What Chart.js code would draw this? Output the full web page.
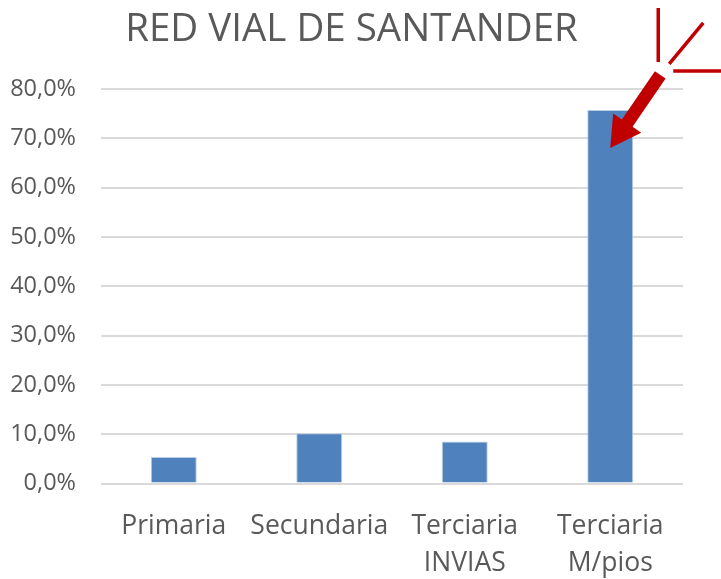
<!DOCTYPE html>
<html>
<head>
<meta charset="utf-8">
<script src="https://cdn.jsdelivr.net/npm/chart.js@4.4.1/dist/chart.umd.min.js"></script>
<style>
  html, body { margin: 0; padding: 0; background: #fff; }
  #wrap { width: 721px; height: 579px; }
</style>
</head>
<body>
<div id="wrap"><canvas id="c"></canvas></div>
<script>
const categories = [['Primaria'], ['Secundaria'], ['Terciaria', 'INVIAS'], ['Terciaria', 'M/pios']];
const shares = [5.4, 10.2, 8.5, 75.8];
const tickValues = [0, 10, 20, 30, 40, 50, 60, 70, 80];
const chartTitle = 'RED VIAL DE SANTANDER';

const textColor = '#595959';
const fontFamily = "'Open Sans', 'Noto Sans', sans-serif";

// red arrow + burst marks pointing at the tallest bar
const arrowPlugin = {
  id: 'arrowNote',
  afterDatasetsDraw(chart) {
    const bar = chart.getDatasetMeta(0).data[3];
    if (!bar) return;
    const ctx = chart.ctx;
    const tip = { x: bar.x, y: bar.y + 38 };
    const tail = { x: bar.x + 50, y: bar.y - 35 };
    const dx = tip.x - tail.x, dy = tip.y - tail.y;
    const len = Math.hypot(dx, dy);
    const ux = dx / len, uy = dy / len;
    const nx = -uy, ny = ux;
    const headLen = 30, headW = 17, shaftW = 6.5;
    const bx = tip.x - ux * headLen, by = tip.y - uy * headLen;

    ctx.save();
    ctx.fillStyle = '#C00000';
    ctx.beginPath();
    ctx.moveTo(tail.x + nx * shaftW, tail.y + ny * shaftW);
    ctx.lineTo(bx + nx * shaftW, by + ny * shaftW);
    ctx.lineTo(bx + nx * headW, by + ny * headW);
    ctx.lineTo(tip.x, tip.y);
    ctx.lineTo(bx - nx * headW, by - ny * headW);
    ctx.lineTo(bx - nx * shaftW, by - ny * shaftW);
    ctx.lineTo(tail.x - nx * shaftW, tail.y - ny * shaftW);
    ctx.closePath();
    ctx.fill();

    ctx.strokeStyle = '#C00000';
    ctx.lineWidth = 3.5;
    ctx.beginPath();
    ctx.moveTo(bar.x + 48, bar.y - 102);
    ctx.lineTo(bar.x + 48, bar.y - 48);
    ctx.moveTo(bar.x + 59, bar.y - 46);
    ctx.lineTo(bar.x + 93, bar.y - 87);
    ctx.moveTo(bar.x + 63, bar.y - 39);
    ctx.lineTo(bar.x + 115, bar.y - 39);
    ctx.stroke();
    ctx.restore();
  }
};

new Chart(document.getElementById('c'), {
  type: 'bar',
  data: {
    labels: categories,
    datasets: [{
      data: shares,
      backgroundColor: '#4F81BD',
      borderColor: '#B9CDE5',
      borderWidth: 1,
      categoryPercentage: 1,
      barPercentage: 0.316
    }]
  },
  options: {
    responsive: true,
    maintainAspectRatio: false,
    animation: false,
    layout: { padding: { left: 0, right: 18, top: 0, bottom: 0 } },
    plugins: {
      legend: { display: false },
      tooltip: { enabled: false },
      title: {
        display: true,
        text: chartTitle,
        color: textColor,
        font: { family: fontFamily, size: 38.5, weight: 'normal', lineHeight: 1.2 },
        padding: { top: 7, bottom: 36 }
      }
    },
    scales: {
      x: {
        grid: { display: false },
        border: { display: false },
        ticks: {
          color: textColor,
          font: { family: fontFamily, size: 26.5, lineHeight: 1.38 },
          padding: 17,
          maxRotation: 0,
          autoSkip: false
        },
        afterFit(scale) { scale.height = 95.5; }
      },
      y: {
        min: 0,
        max: 80,
        afterBuildTicks(scale) { scale.ticks = tickValues.map(v => ({ value: v })); },
        grid: { color: '#D9D9D9', lineWidth: 2, drawTicks: false },
        border: { display: false },
        ticks: {
          color: textColor,
          font: { family: fontFamily, size: 23.5 },
          padding: 25,
          callback: v => v.toFixed(1).replace('.', ',') + '%'
        },
        afterFit(scale) { scale.width = 101; }
      },
      // empty right-hand spacer so the title centres like the original
      yRight: {
        position: 'right',
        min: 0,
        max: 80,
        grid: { display: false },
        border: { display: false },
        ticks: { display: false },
        afterFit(scale) { scale.width = 20; }
      }
    }
  },
  plugins: [arrowPlugin]
});
</script>
</body>
</html>
